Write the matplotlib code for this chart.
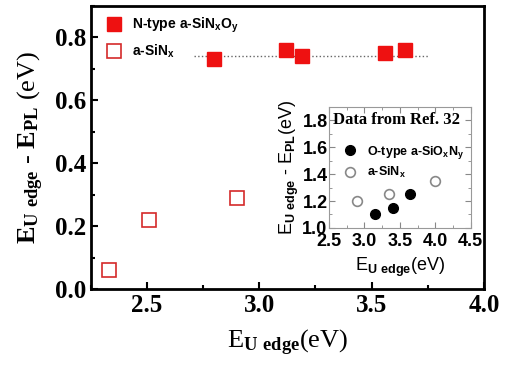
import matplotlib
matplotlib.use('Agg')
import matplotlib.pyplot as plt
from matplotlib.ticker import MultipleLocator

plt.rcParams['mathtext.default'] = 'regular'
plt.rcParams['mathtext.fontset'] = 'custom'
plt.rcParams['mathtext.bf'] = 'Liberation Serif:bold'
plt.rcParams['mathtext.sf'] = 'Liberation Sans:bold'

# main panel data
n_x = [2.80, 3.12, 3.19, 3.56, 3.65]
n_y = [0.73, 0.76, 0.74, 0.75, 0.76]
sin_x = [2.33, 2.51, 2.90]
sin_y = [0.06, 0.22, 0.29]
ref_level = 0.74
ref_span = [2.71, 3.75]

# inset data (Ref. 32)
o_x = [3.15, 3.40, 3.65]
o_y = [1.10, 1.15, 1.25]
ins_x = [2.90, 3.35, 4.00]
ins_y = [1.20, 1.25, 1.35]

serif = 'Liberation Serif'
sans = 'Liberation Sans'

fig = plt.figure(figsize=(5.1, 3.73), dpi=100)
ax = fig.add_axes([0.178, 0.225, 0.771, 0.759])

ax.plot(ref_span, [ref_level, ref_level], ':', color='#666666', lw=1.0)
l1, = ax.plot(n_x, n_y, 's', color='#ee1111', ms=10, mec='#ee1111')
l2, = ax.plot(sin_x, sin_y, 's', mfc='none', mec='#d42a2a', ms=10, mew=1.2)

ax.set_xlim(2.25, 4.0)
ax.set_ylim(0, 0.9)
ax.xaxis.set_major_locator(MultipleLocator(0.5))
ax.xaxis.set_minor_locator(MultipleLocator(0.25))
ax.yaxis.set_major_locator(MultipleLocator(0.2))
ax.yaxis.set_minor_locator(MultipleLocator(0.1))
ax.tick_params(which='both', direction='in', top=False, right=False, width=1.5)
ax.tick_params(which='major', length=5, labelsize=18)
ax.tick_params(which='minor', length=3)
for lab in ax.get_xticklabels() + ax.get_yticklabels():
    lab.set_fontfamily(serif)
    lab.set_fontweight('bold')
for s in ax.spines.values():
    s.set_linewidth(2)

ax.set_xlabel(r'E$_{\mathbf{U\ edge}}$(eV)', fontfamily=serif, fontsize=19, labelpad=8)
ax.set_ylabel(r'$\mathbf{E}_{\mathbf{U\ edge}}$ - $\mathbf{E}_{\mathbf{PL}}$ (eV)',
              fontfamily=serif, fontsize=19, labelpad=6)

leg = ax.legend([l1, l2], ['N-type a-SiN$_x$O$_y$', 'a-SiN$_x$'], loc='upper left',
                frameon=False, prop={'family': sans, 'size': 10, 'weight': 'bold'},
                handletextpad=0.3, borderaxespad=0.3, labelspacing=0.55)

# inset
ins = fig.add_axes([0.645, 0.389, 0.278, 0.324])
ins.plot(o_x, o_y, 'o', color='black', ms=7)
ins.plot(ins_x, ins_y, 'o', mfc='white', mec='#888888', ms=7, mew=1.2)
ins.set_xlim(2.5, 4.5)
ins.set_ylim(1.0, 1.9)
ins.xaxis.set_major_locator(MultipleLocator(0.5))
ins.xaxis.set_minor_locator(MultipleLocator(0.25))
ins.yaxis.set_major_locator(MultipleLocator(0.2))
ins.yaxis.set_minor_locator(MultipleLocator(0.1))
ins.tick_params(which='both', direction='in', top=True, right=True, color='#888888')
ins.tick_params(which='major', length=4, labelsize=13)
ins.tick_params(axis='y', which='major', pad=1)
ins.tick_params(axis='x', which='major', pad=4)
ins.tick_params(which='minor', length=2)
for lab in ins.get_xticklabels() + ins.get_yticklabels():
    lab.set_fontfamily(sans)
    lab.set_fontweight('bold')
for s in ins.spines.values():
    s.set_color('#999999')
ins.set_xlabel(r'E$_{\mathsf{U\ edge}}$(eV)', fontfamily=sans, fontsize=13, labelpad=4)
ins.set_ylabel(r'E$_{\mathsf{U\ edge}}$ - E$_{\mathsf{PL}}$(eV)', fontfamily=sans,
               fontsize=13, labelpad=1)

ins.text(0.03, 0.86, 'Data from Ref. 32', transform=ins.transAxes,
         fontfamily=serif, fontweight='bold', fontsize=12)
ins.legend(['O-type a-SiO$_x$N$_y$', 'a-SiN$_x$'], loc='upper left',
           bbox_to_anchor=(-0.02, 0.79), frameon=False,
           prop={'family': sans, 'size': 9, 'weight': 'bold'},
           handletextpad=0.4, labelspacing=0.35)

fig.savefig('out.png', dpi=100)
